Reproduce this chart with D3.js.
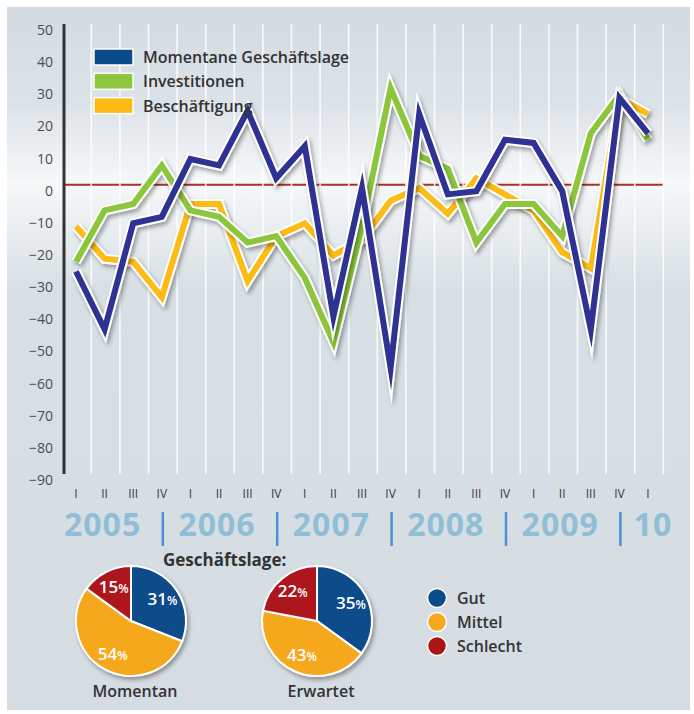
<!DOCTYPE html>
<html>
<head>
<meta charset="utf-8">
<script src="https://cdn.jsdelivr.net/npm/d3@7"></script>
<style>
  body { margin: 0; background: #fff; }
  svg { display: block; }
  text { font-family: "Open Sans", sans-serif; }
</style>
</head>
<body>
<script>
  // quarters 2005 I .. 2010 I
  var quarters = ["I","II","III","IV","I","II","III","IV","I","II","III","IV",
                  "I","II","III","IV","I","II","III","IV","I"];

  // series values (Saldo in Prozentpunkten)
  var momentan      = [-27,-45,-12,-10,8,6,23,2,12,-41,-1,-57,22,-3,-2,14,13,-2,-45,27,16];
  var investitionen = [-24,-8,-6,6,-8,-10,-18,-16,-29,-49,-13,30,9,5,-18,-6,-6,-16,16,28,14];
  var beschaeftigung = [-13,-23,-24,-35,-6,-6,-30,-16,-12,-22,-17,-5,-1,-9,2,-3,-8,-21,-26,27,22];

  var yTicks = d3.range(-90, 51, 10);
  var years = ["2005","2006","2007","2008","2009","10"];
  var yearAt = [1, 5, 9, 13, 17, 20];     // quarter index under each year
  var yearBreaks = [3, 7, 11, 15, 19];    // the "|" after these quarters

  var seriesNames = ["Momentane Geschäftslage", "Investitionen", "Beschäftigung"];

  var pieCats = ["Gut", "Mittel", "Schlecht"];
  var pieMomentan = [31, 54, 15];
  var pieErwartet = [35, 43, 22];

  var W = 694, H = 714;

  var svg = d3.select('body').append('svg')
    .attr('width', W)
    .attr('height', H);

  var defs = svg.append('defs');

  var bg = defs.append('linearGradient')
    .attr('id', 'bg')
    .attr('x1', 0).attr('y1', 0).attr('x2', 0).attr('y2', 1);
  bg.append('stop').attr('offset', '0%').attr('stop-color', '#d3dbe1');
  bg.append('stop').attr('offset', '14%').attr('stop-color', '#dce3e8');
  bg.append('stop').attr('offset', '25%').attr('stop-color', '#f6f8f9');
  bg.append('stop').attr('offset', '40%').attr('stop-color', '#d8e0e5');
  bg.append('stop').attr('offset', '100%').attr('stop-color', '#d5dde3');

  var sh = defs.append('filter')
    .attr('id', 'shadow')
    .attr('x', '-20%').attr('y', '-20%').attr('width', '140%').attr('height', '140%');
  sh.append('feDropShadow')
    .attr('dx', 2).attr('dy', 3).attr('stdDeviation', 2.2)
    .attr('flood-color', '#000').attr('flood-opacity', 0.35);

  // panel
  svg.append('rect')
    .attr('x', 7).attr('y', 7)
    .attr('width', 683).attr('height', 703)
    .attr('fill', 'url(#bg)');

  // scales
  var x = d3.scalePoint()
    .domain(d3.range(quarters.length))
    .range([76, 648]);

  var y = d3.scaleLinear()
    .domain([-90, 50])
    .range([474, 24]);

  var step = x.step();

  // zero line
  svg.append('line')
    .attr('x1', 64).attr('x2', x(20) + step / 2 + 1)
    .attr('y1', y(0)).attr('y2', y(0))
    .attr('stroke', '#a8322a')
    .attr('stroke-width', 2);

  // white vertical grid lines
  svg.append('g')
    .selectAll('line')
    .data(d3.range(quarters.length))
    .enter()
    .append('line')
    .attr('x1', function (d) { return x(d) + step / 2 + 1; })
    .attr('x2', function (d) { return x(d) + step / 2 + 1; })
    .attr('y1', y(50))
    .attr('y2', y(-90))
    .attr('stroke', '#fff')
    .attr('stroke-opacity', 0.85)
    .attr('stroke-width', 1.6);

  // y axis
  var yAxis = d3.axisLeft(y)
    .tickValues(yTicks)
    .tickSize(0)
    .tickPadding(11);

  var gy = svg.append('g')
    .attr('transform', 'translate(64,0)')
    .call(yAxis);
  gy.select('.domain').remove();
  gy.selectAll('text')
    .attr('dy', '0.32em')
    .attr('transform', 'translate(0,6)')
    .style('font-size', '14px')
    .style('font-family', '"Open Sans", sans-serif')
    .attr('fill', '#4d4d4d');

  svg.append('line')
    .attr('x1', 64).attr('x2', 64)
    .attr('y1', y(50)).attr('y2', y(-90))
    .attr('stroke', '#333')
    .attr('stroke-width', 3);

  // quarter labels
  svg.append('g')
    .selectAll('text')
    .data(quarters)
    .enter()
    .append('text')
    .attr('x', function (d, i) { return x(i); })
    .attr('y', 498)
    .attr('text-anchor', 'middle')
    .style('font-size', '12px')
    .attr('fill', '#3a3a3a')
    .text(function (d) { return d; });

  // years
  svg.append('g')
    .selectAll('text')
    .data(years)
    .enter()
    .append('text')
    .attr('x', function (d, i) { return x(yearAt[i]) + (i === 5 ? 5 : -2); })
    .attr('y', 536)
    .attr('text-anchor', 'middle')
    .style('font-size', '32px')
    .style('font-weight', 700)
    .style('letter-spacing', '1px')
    .attr('fill', '#8fbed6')
    .text(function (d) { return d; });

  svg.append('g')
    .selectAll('line')
    .data(yearBreaks)
    .enter()
    .append('line')
    .attr('x1', function (d) { return x(d) + 1; })
    .attr('x2', function (d) { return x(d) + 1; })
    .attr('y1', 512).attr('y2', 546)
    .attr('stroke', '#4d8fd8')
    .attr('stroke-width', 2.5);

  // lines
  var line = d3.line()
    .x(function (d, i) { return x(i); })
    .y(function (d) { return y(d); });

  var series = [
    { values: beschaeftigung, color: '#fdbb13' },
    { values: investitionen, color: '#8cc63e' },
    { values: momentan, color: '#2e3192' }
  ];

  series.forEach(function (s) {
    var g = svg.append('g').attr('filter', 'url(#shadow)');
    g.append('path')
      .datum(s.values)
      .attr('d', line)
      .attr('fill', 'none')
      .attr('stroke', '#fff')
      .attr('stroke-width', 10)
      .attr('stroke-linejoin', 'miter')
      .attr('stroke-miterlimit', 10);
    g.append('path')
      .datum(s.values)
      .attr('d', line)
      .attr('fill', 'none')
      .attr('stroke', s.color)
      .attr('stroke-width', 6)
      .attr('stroke-linejoin', 'miter')
      .attr('stroke-miterlimit', 10);
  });

  // legend
  var legendColors = ['#0b4a8b', '#8cc63e', '#fdbb13'];
  var legend = svg.append('g')
    .selectAll('g')
    .data(seriesNames)
    .enter()
    .append('g')
    .attr('transform', function (d, i) { return 'translate(94,' + (49 + i * 24.3) + ')'; });

  legend.append('rect')
    .attr('width', 39).attr('height', 16)
    .attr('fill', function (d, i) { return legendColors[i]; })
    .attr('stroke', '#fff')
    .attr('stroke-width', 1.5);

  legend.append('text')
    .attr('x', 49).attr('y', 14)
    .style('font-size', '16px')
    .style('font-weight', 600)
    .attr('fill', '#333')
    .text(function (d) { return d; });

  // pies
  var pieColors = d3.scaleOrdinal()
    .domain(pieCats)
    .range(['#0d4c8b', '#f6a81f', '#ad141a']);

  var pie = d3.pie().sort(null);
  var arc = d3.arc().innerRadius(0).outerRadius(55);
  var labelArc = d3.arc().innerRadius(38).outerRadius(38);

  svg.append('text')
    .attr('x', 163).attr('y', 566)
    .style('font-size', '17px')
    .style('font-weight', 700)
    .attr('fill', '#333')
    .text('Geschäftslage:');

  function drawPie(values, cx, title) {
    var g = svg.append('g').attr('transform', 'translate(' + cx + ',621)');
    var slices = g.append('g').attr('filter', 'url(#shadow)');
    slices.selectAll('path')
      .data(pie(values))
      .enter()
      .append('path')
      .attr('d', arc)
      .attr('fill', function (d, i) { return pieColors(pieCats[i]); })
      .attr('stroke', '#fff')
      .attr('stroke-width', 2);

    var lbl = g.selectAll('.lbl')
      .data(pie(values))
      .enter()
      .append('text')
      .attr('class', 'lbl')
      .attr('transform', function (d) { return 'translate(' + labelArc.centroid(d) + ')'; })
      .attr('text-anchor', 'middle')
      .attr('dy', '0.35em')
      .attr('fill', '#fff')
      .style('font-weight', 600);
    lbl.append('tspan')
      .style('font-size', '17px')
      .text(function (d) { return d.data; });
    lbl.append('tspan')
      .style('font-size', '12px')
      .text('%');

    g.append('text')
      .attr('x', 4).attr('y', 76)
      .attr('text-anchor', 'middle')
      .style('font-size', '16px')
      .style('font-weight', 600)
      .attr('fill', '#333')
      .text(title);
  }

  drawPie(pieMomentan, 131, 'Momentan');
  drawPie(pieErwartet, 317, 'Erwartet');

  // pie legend
  var pl = svg.append('g')
    .selectAll('g')
    .data(pieCats)
    .enter()
    .append('g')
    .attr('transform', function (d, i) { return 'translate(437,' + (598 + i * 24) + ')'; });

  pl.append('circle')
    .attr('r', 9.5)
    .attr('fill', function (d) { return pieColors(d); })
    .attr('stroke', '#fff')
    .attr('stroke-width', 1.5);

  pl.append('text')
    .attr('x', 20).attr('y', 6)
    .style('font-size', '16px')
    .style('font-weight', 600)
    .attr('fill', '#333')
    .text(function (d) { return d; });
</script>
</body>
</html>
